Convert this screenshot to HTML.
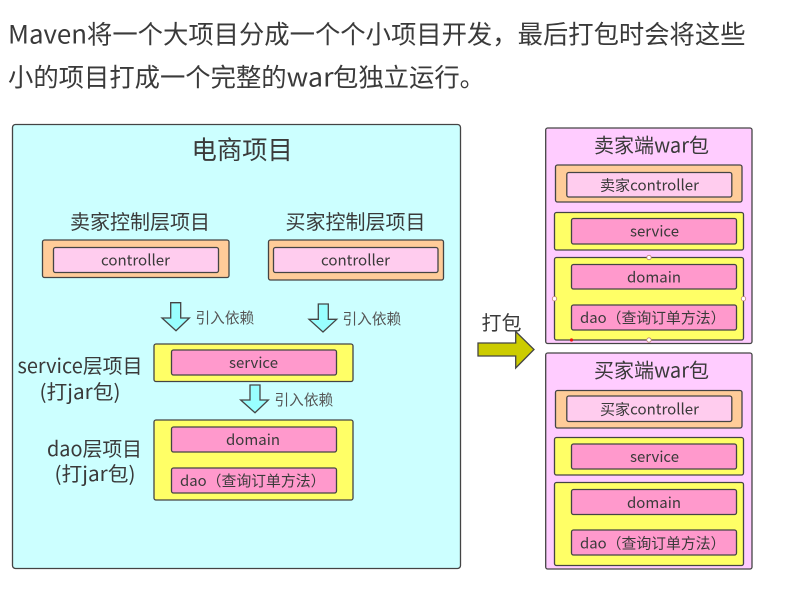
<!DOCTYPE html>
<html><head><meta charset="utf-8">
<style>
html,body{margin:0;padding:0;background:#fff}
svg{display:block}
text{font-family:"Liberation Sans","Noto Sans CJK SC",sans-serif;fill:#3a3a3a}
.c{font-family:"Noto Sans CJK SC","Liberation Sans",sans-serif}
rect,path{stroke:#444;stroke-width:1.3}
</style></head><body>
<svg width="797" height="591" viewBox="0 0 797 591" xmlns="http://www.w3.org/2000/svg">
<text class="c" x="8" y="43.5" font-size="25.33" textLength="79" lengthAdjust="spacingAndGlyphs">Maven</text>
<text class="c" x="87" y="43.5" font-size="25.33">将一个大项目分成一个个小项目开发，最后打包时会将这些</text>
<text class="c" x="8" y="86.5" font-size="25.33">小的项目打成一个完整的</text>
<text class="c" x="286.6" y="86.5" font-size="25.33" textLength="47" lengthAdjust="spacingAndGlyphs">war</text>
<text class="c" x="333" y="86.5" font-size="25.33">包独立运行。</text>

<rect x="12.5" y="124.5" width="448" height="444" rx="3" fill="#ccffff"/>
<text class="c" x="191.5" y="159" font-size="25.33">电商项目</text>
<text class="c" x="70" y="229" font-size="20">卖家控制层项目</text>
<text class="c" x="285.5" y="229" font-size="20">买家控制层项目</text>

<rect x="42.5" y="240" width="186.5" height="37.5" rx="2" fill="#ffcc99"/>
<rect x="53.5" y="247.5" width="165" height="25" rx="2" fill="#ffccee"/>
<text class="c" x="101" y="265.5" font-size="15" textLength="69" lengthAdjust="spacingAndGlyphs">controller</text>
<rect x="268.5" y="240" width="175" height="40" rx="2" fill="#ffcc99"/>
<rect x="273.5" y="247.5" width="164.5" height="25" rx="2" fill="#ffccee"/>
<text class="c" x="321" y="265.5" font-size="15" textLength="69" lengthAdjust="spacingAndGlyphs">controller</text>

<path d="M170.7 302.7H180.7V318H189.3L176 330.7L162 318H170.7Z" fill="#99ffff"/>
<text class="c" x="195.5" y="323" font-size="14.67" style="fill:#555">引入依赖</text>
<path d="M318.3 304H328.3V319.3H336.7L323 332L309 319.3H318.3Z" fill="#99ffff"/>
<text class="c" x="342.5" y="324" font-size="14.67" style="fill:#555">引入依赖</text>

<text class="c" x="17.5" y="373" font-size="20" textLength="125" lengthAdjust="spacingAndGlyphs">service层项目</text>
<text class="c" x="39.5" y="399" font-size="20" textLength="81" lengthAdjust="spacingAndGlyphs">(打jar包)</text>
<rect x="154" y="344" width="199" height="37.5" rx="2" fill="#ffff66"/>
<rect x="171.5" y="350" width="165" height="25" rx="2" fill="#ff99cc"/>
<text class="c" x="229" y="368" font-size="15" textLength="49" lengthAdjust="spacingAndGlyphs">service</text>

<path d="M250 385H260V400H268.3L255 412.7L240.7 400H250Z" fill="#99ffff"/>
<text class="c" x="274.5" y="405" font-size="14.67" style="fill:#555">引入依赖</text>

<text class="c" x="47" y="456" font-size="20" textLength="95" lengthAdjust="spacingAndGlyphs">dao层项目</text>
<text class="c" x="54.5" y="481" font-size="20" textLength="81" lengthAdjust="spacingAndGlyphs">(打jar包)</text>
<rect x="154" y="420" width="199" height="80" rx="2" fill="#ffff66"/>
<rect x="171.5" y="427" width="165" height="25" rx="2" fill="#ff99cc"/>
<text class="c" x="226" y="445" font-size="15" textLength="54" lengthAdjust="spacingAndGlyphs">domain</text>
<rect x="171.5" y="468" width="165" height="25" rx="2" fill="#ff99cc"/>
<text class="c" x="180" y="486" font-size="14.67" textLength="145.5" lengthAdjust="spacingAndGlyphs">dao（查询订单方法）</text>

<text class="c" x="481.5" y="330" font-size="20">打包</text>
<path d="M478 343H515.7V331.5L534 349.5L515.7 368V356H478Z" fill="#cccc00"/>

<rect x="545.7" y="128" width="206.3" height="215.5" rx="2" fill="#ffccff"/>
<text class="c" x="594" y="152.5" font-size="20" textLength="115" lengthAdjust="spacingAndGlyphs">卖家端war包</text>
<rect x="555.5" y="165" width="186.5" height="37" rx="2" fill="#ffcc99"/>
<rect x="566.8" y="172.5" width="165" height="24.5" rx="2" fill="#ffccee"/>
<text class="c" x="600" y="190.5" font-size="15" textLength="99" lengthAdjust="spacingAndGlyphs">卖家controller</text>
<rect x="554.5" y="212.5" width="189" height="37.5" rx="2" fill="#ffff66"/>
<rect x="571.5" y="218.5" width="165" height="25.5" rx="2" fill="#ff99cc"/>
<text class="c" x="630" y="236.5" font-size="15" textLength="49" lengthAdjust="spacingAndGlyphs">service</text>
<rect x="554.5" y="257.5" width="189" height="82.5" rx="2" fill="#ffff66"/>
<rect x="571.5" y="264.5" width="165" height="24.5" rx="2" fill="#ff99cc"/>
<text class="c" x="627" y="282.5" font-size="15" textLength="54" lengthAdjust="spacingAndGlyphs">domain</text>
<rect x="571.5" y="305" width="165" height="25" rx="2" fill="#ff99cc"/>
<text class="c" x="580" y="323" font-size="14.67" textLength="145.5" lengthAdjust="spacingAndGlyphs">dao（查询订单方法）</text>
<g fill="#fff" stroke="#c08070" stroke-width="0.8">
<circle cx="649" cy="257.5" r="2.2"/><circle cx="649" cy="340" r="2.2"/><circle cx="554.5" cy="298.7" r="2.2"/><circle cx="743.5" cy="298.7" r="2.2"/>
</g>
<circle cx="571.5" cy="340" r="1.6" fill="#ee1111"/>

<rect x="545.7" y="353" width="206.3" height="216" rx="2" fill="#ffccff"/>
<text class="c" x="594" y="377.5" font-size="20" textLength="115" lengthAdjust="spacingAndGlyphs">买家端war包</text>
<rect x="555.5" y="390.5" width="186.5" height="37.5" rx="2" fill="#ffcc99"/>
<rect x="566.8" y="396" width="165" height="25.5" rx="2" fill="#ffccee"/>
<text class="c" x="600" y="414.5" font-size="15" textLength="99" lengthAdjust="spacingAndGlyphs">买家controller</text>
<rect x="554.5" y="437.5" width="189" height="37.5" rx="2" fill="#ffff66"/>
<rect x="571.5" y="444" width="165" height="25" rx="2" fill="#ff99cc"/>
<text class="c" x="630" y="462" font-size="15" textLength="49" lengthAdjust="spacingAndGlyphs">service</text>
<rect x="554.5" y="482.5" width="189" height="83" rx="2" fill="#ffff66"/>
<rect x="571.5" y="489.5" width="165" height="25" rx="2" fill="#ff99cc"/>
<text class="c" x="627" y="508" font-size="15" textLength="54" lengthAdjust="spacingAndGlyphs">domain</text>
<rect x="571.5" y="530" width="165" height="25" rx="2" fill="#ff99cc"/>
<text class="c" x="580" y="548.5" font-size="14.67" textLength="145.5" lengthAdjust="spacingAndGlyphs">dao（查询订单方法）</text>
</svg>
</body></html>
